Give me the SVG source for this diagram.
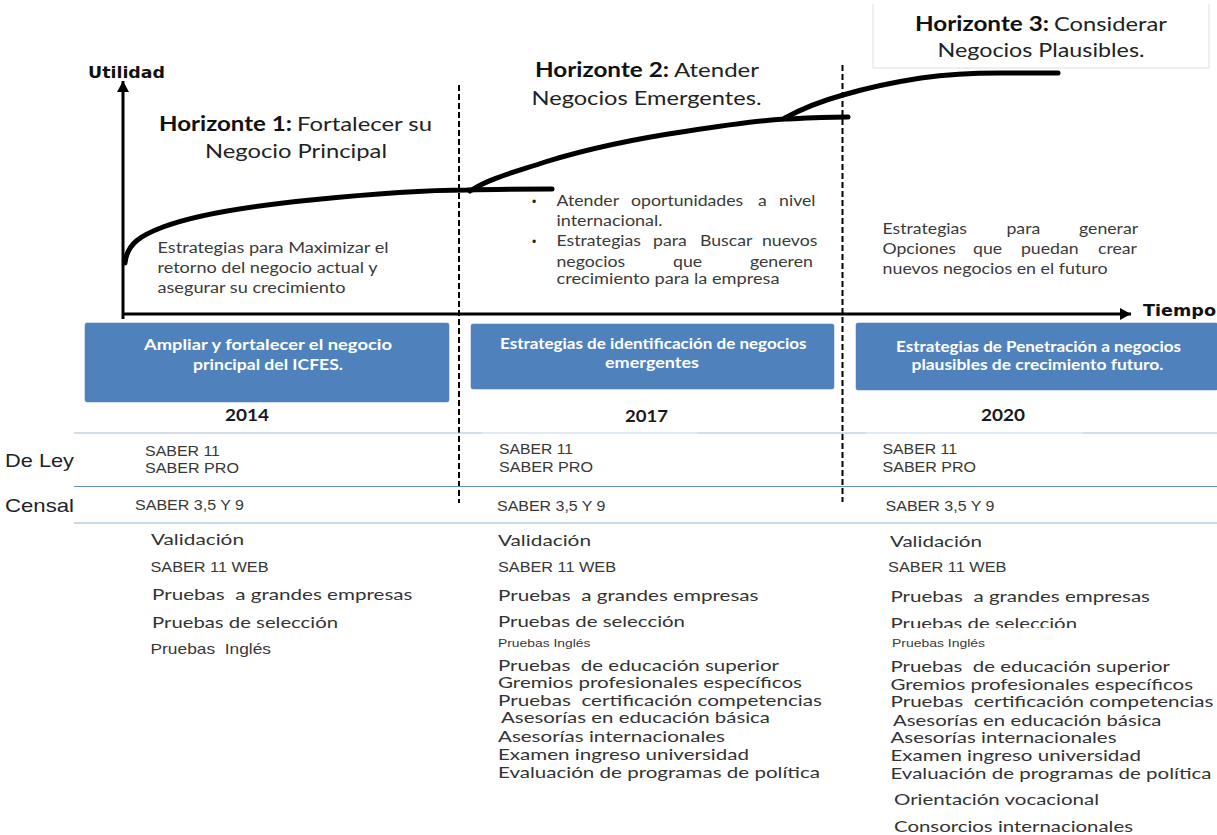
<svg xmlns="http://www.w3.org/2000/svg" width="1217" height="835" viewBox="0 0 1217 835">
<style>
text{font-family:"Lato","Open Sans",sans-serif;fill:#2b2b2b;white-space:pre}
.h{font-size:20px;fill:#222}
.hb{font-weight:700;fill:#111}
.b{font-size:14.5px;fill:#3a3a3a}
.l{font-size:16px;fill:#333}
.a{font-family:"Liberation Sans",Arial,sans-serif;font-size:14.5px;fill:#383838}
.bu{font-family:"Liberation Sans",Arial,sans-serif;font-size:12px;fill:#222}
.w{font-size:14.5px;font-weight:700;fill:#fff}
.y{font-size:17.5px;font-weight:700;fill:#1a1a1a}
.ax{font-family:"DejaVu Sans",sans-serif;font-size:15px;font-weight:700;fill:#111}
.r{font-family:"Liberation Sans",Arial,sans-serif;font-size:19px;fill:#222}
.box{fill:#4f81bd;stroke:#4a7ab3;stroke-width:.5}
.c{fill:none;stroke:#000;stroke-width:5;stroke-linecap:round}
.d{fill:none;stroke:#000;stroke-width:2;stroke-dasharray:6 3}
.ra{fill:none;stroke:#000;stroke-width:3}
.s{fill:none;stroke-width:1.2}
</style>
<defs>
<marker id="up" markerUnits="userSpaceOnUse" markerWidth="12" markerHeight="12" refX="11" refY="6" orient="auto"><path d="M0 0L11 6L0 12Z" fill="#000"/></marker>
</defs>

<g id="connectors">
<path class="d" d="M459 85V503"/>
<path class="d" d="M842.5 65V502"/>
<path class="ra" d="M123 319V81" marker-end="url(#up)"/>
<path class="ra" d="M122 314H1131" marker-end="url(#up)"/>
<path class="c" d="M125 263C127 243 142 235 163 227C200 213 260 205 311 200C360 195 420 190 467 190C495 189 525 189 552 189"/>
<path class="c" d="M470 191C490 178 515 172 545 162C590 148 640 138 688 131C720 126 755 121 785 119C810 118 830 117 848 117"/>
<path class="c" d="M785 118C805 107 825 100 843 95C870 87 895 82 921 78C950 74 975 73 999 73C1020 73 1040 73 1058 73"/>
<path class="s" stroke="#a9bcd4" d="M74 433H482M697 433H866M1083 433H1217"/>
<path class="s" stroke="#c3d5ea" d="M482 433H697M866 433H1083"/>
<path class="s" stroke="#5d8ecb" d="M74 486.5H1217"/>
<path class="s" stroke="#8fb0da" stroke-width="1.6" d="M74 523H1217"/>
</g>

<g id="utilidad"><text class="ax" x="88" y="78" textLength="77" lengthAdjust="spacingAndGlyphs">Utilidad</text></g>
<g id="tiempo"><text class="ax" x="1143" y="316" textLength="73" lengthAdjust="spacingAndGlyphs">Tiempo</text></g>

<g id="horizonte-1">
<text class="h hb" x="159" y="131" textLength="133" lengthAdjust="spacingAndGlyphs">Horizonte 1:</text>
<text class="h" x="297" y="131" textLength="135" lengthAdjust="spacingAndGlyphs">Fortalecer su</text>
<text class="h" x="205" y="158" textLength="182" lengthAdjust="spacingAndGlyphs">Negocio Principal</text>
<text class="b" x="157.500" y="253" textLength="231" lengthAdjust="spacingAndGlyphs">Estrategias para Maximizar el</text>
<text class="b" x="157.500" y="273" textLength="220" lengthAdjust="spacingAndGlyphs">retorno del negocio actual y</text>
<text class="b" x="157.500" y="293" textLength="188" lengthAdjust="spacingAndGlyphs">asegurar su crecimiento</text>
</g>

<g id="horizonte-2">
<text class="h hb" x="535" y="77" textLength="134" lengthAdjust="spacingAndGlyphs">Horizonte 2:</text>
<text class="h" x="674" y="77" textLength="85" lengthAdjust="spacingAndGlyphs">Atender</text>
<text class="h" x="531.500" y="105" textLength="230" lengthAdjust="spacingAndGlyphs">Negocios Emergentes.</text>
<text class="bu" x="532" y="206">•</text>
<text class="b" transform="translate(556.500 206) scale(1.22 1)"><tspan x="0">Atender</tspan> <tspan x="61.100">oportunidades</tspan> <tspan x="165.200">a</tspan> <tspan x="182.400">nivel</tspan></text>
<text class="b" x="556.500" y="226" textLength="106" lengthAdjust="spacingAndGlyphs">internacional.</text>
<text class="bu" x="532" y="246">•</text>
<text class="b" transform="translate(556.500 246) scale(1.22 1)"><tspan x="0">Estrategias</tspan> <tspan x="79.100">para</tspan> <tspan x="117.600">Buscar</tspan> <tspan x="168.400">nuevos</tspan></text>
<text class="b" transform="translate(556.500 267) scale(1.22 1)"><tspan x="0">negocios</tspan> <tspan x="95.500">que</tspan> <tspan x="158.600">generen</tspan></text>
<text class="b" x="556.500" y="284" textLength="223" lengthAdjust="spacingAndGlyphs">crecimiento para la empresa</text>
</g>

<g id="horizonte-3">
<path d="M873 4V68H1209V4" fill="#fff" stroke="#dfdfdf"/>
<text class="h hb" x="915" y="31" textLength="134" lengthAdjust="spacingAndGlyphs">Horizonte 3:</text>
<text class="h" x="1054" y="31" textLength="113" lengthAdjust="spacingAndGlyphs">Considerar</text>
<text class="h" x="937.500" y="57" textLength="207" lengthAdjust="spacingAndGlyphs">Negocios Plausibles.</text>
<text class="b" transform="translate(882.500 234) scale(1.22 1)"><tspan x="0">Estrategias</tspan> <tspan x="101.600">para</tspan> <tspan x="161.100">generar</tspan></text>
<text class="b" transform="translate(882.500 254) scale(1.22 1)"><tspan x="0">Opciones</tspan> <tspan x="74.200">que</tspan> <tspan x="113.500">puedan</tspan> <tspan x="176.600">crear</tspan></text>
<text class="b" x="882.500" y="274" textLength="225" lengthAdjust="spacingAndGlyphs">nuevos negocios en el futuro</text>
</g>

<g id="box-2014">
<rect class="box" x="85" y="323" width="364" height="79" rx="2"/>
<text class="w" x="144" y="350" textLength="248" lengthAdjust="spacingAndGlyphs">Ampliar y fortalecer el negocio</text>
<text class="w" x="193" y="370" textLength="150" lengthAdjust="spacingAndGlyphs">principal del ICFES.</text>
<text class="y" x="225" y="421" textLength="44" lengthAdjust="spacingAndGlyphs">2014</text>
</g>
<g id="box-2017">
<rect class="box" x="471" y="324" width="363" height="65" rx="2"/>
<text class="w" x="500" y="349" textLength="306.500" lengthAdjust="spacingAndGlyphs">Estrategias de identificación de negocios</text>
<text class="w" x="605" y="368" textLength="94" lengthAdjust="spacingAndGlyphs">emergentes</text>
<text class="y" x="625" y="422" textLength="43" lengthAdjust="spacingAndGlyphs">2017</text>
</g>
<g id="box-2020">
<rect class="box" x="856" y="323" width="362" height="67" rx="2"/>
<text class="w" x="896" y="352" textLength="285" lengthAdjust="spacingAndGlyphs">Estrategias de Penetración a negocios</text>
<text class="w" x="911.500" y="370" textLength="252" lengthAdjust="spacingAndGlyphs">plausibles de crecimiento futuro.</text>
<text class="y" x="981" y="421" textLength="44" lengthAdjust="spacingAndGlyphs">2020</text>
</g>

<g id="row-labels">
<text class="r" x="5" y="467" textLength="69" lengthAdjust="spacingAndGlyphs">De Ley</text>
<text class="r" x="5" y="512" textLength="69" lengthAdjust="spacingAndGlyphs">Censal</text>
</g>

<g id="col-2014">
<text class="a" x="145" y="456" textLength="75" lengthAdjust="spacingAndGlyphs">SABER 11</text>
<text class="a" x="145" y="473" textLength="94" lengthAdjust="spacingAndGlyphs">SABER PRO</text>
<text class="a" x="135" y="510" textLength="109" lengthAdjust="spacingAndGlyphs">SABER 3,5 Y 9</text>
<text class="l" x="151" y="545" textLength="93" lengthAdjust="spacingAndGlyphs">Validación</text>
<text class="a" x="150.500" y="572" textLength="118" lengthAdjust="spacingAndGlyphs">SABER 11 WEB</text>
<text class="l" x="152" y="600" textLength="260.500" lengthAdjust="spacingAndGlyphs">Pruebas  a grandes empresas</text>
<text class="l" x="152" y="628" textLength="186" lengthAdjust="spacingAndGlyphs">Pruebas de selección</text>
<text class="a" x="150.500" y="654" textLength="120.500" lengthAdjust="spacingAndGlyphs" style="font-size:15px">Pruebas  Inglés</text>
</g>

<g id="col-2017">
<text class="a" x="499" y="454" textLength="74" lengthAdjust="spacingAndGlyphs">SABER 11</text>
<text class="a" x="499" y="472" textLength="94" lengthAdjust="spacingAndGlyphs">SABER PRO</text>
<text class="a" x="497" y="511" textLength="108.500" lengthAdjust="spacingAndGlyphs">SABER 3,5 Y 9</text>
<text class="l" x="498" y="546" textLength="93" lengthAdjust="spacingAndGlyphs">Validación</text>
<text class="a" x="498" y="572" textLength="118" lengthAdjust="spacingAndGlyphs">SABER 11 WEB</text>
<text class="l" x="498" y="601" textLength="260.500" lengthAdjust="spacingAndGlyphs">Pruebas  a grandes empresas</text>
<text class="l" x="498" y="627" textLength="187" lengthAdjust="spacingAndGlyphs">Pruebas de selección</text>
<text class="a" x="498" y="647" textLength="92.500" lengthAdjust="spacingAndGlyphs" style="font-size:11.500px">Pruebas Inglés</text>
<text class="l" x="498" y="671" textLength="281" lengthAdjust="spacingAndGlyphs">Pruebas  de educación superior</text>
<text class="l" x="498" y="688" textLength="304" lengthAdjust="spacingAndGlyphs">Gremios profesionales específicos</text>
<text class="l" x="498" y="706" textLength="324" lengthAdjust="spacingAndGlyphs">Pruebas  certificación competencias</text>
<text class="l" x="501" y="723" textLength="269" lengthAdjust="spacingAndGlyphs">Asesorías en educación básica</text>
<text class="l" x="498" y="742" textLength="227" lengthAdjust="spacingAndGlyphs">Asesorías internacionales</text>
<text class="l" x="498" y="760" textLength="251" lengthAdjust="spacingAndGlyphs">Examen ingreso universidad</text>
<text class="l" x="498" y="778" textLength="322" lengthAdjust="spacingAndGlyphs">Evaluación de programas de política</text>
</g>

<g id="col-2020">
<text class="a" x="882.500" y="454" textLength="74.500" lengthAdjust="spacingAndGlyphs">SABER 11</text>
<text class="a" x="882.500" y="472" textLength="93.500" lengthAdjust="spacingAndGlyphs">SABER PRO</text>
<text class="a" x="885.500" y="511" textLength="109" lengthAdjust="spacingAndGlyphs">SABER 3,5 Y 9</text>
<text class="l" x="890" y="547" textLength="92" lengthAdjust="spacingAndGlyphs">Validación</text>
<text class="a" x="888" y="572" textLength="118.500" lengthAdjust="spacingAndGlyphs">SABER 11 WEB</text>
<text class="l" x="890.500" y="602" textLength="259.500" lengthAdjust="spacingAndGlyphs">Pruebas  a grandes empresas</text>
<text class="l" x="890.500" y="629" textLength="186.500" lengthAdjust="spacingAndGlyphs">Pruebas de selección</text>
<rect x="885" y="628" width="200" height="6" fill="#fff"/>
<text class="a" x="892" y="647" textLength="93" lengthAdjust="spacingAndGlyphs" style="font-size:11.500px">Pruebas Inglés</text>
<text class="l" x="890.500" y="672" textLength="279.500" lengthAdjust="spacingAndGlyphs">Pruebas  de educación superior</text>
<text class="l" x="890.500" y="690" textLength="302.500" lengthAdjust="spacingAndGlyphs">Gremios profesionales específicos</text>
<text class="l" x="890.500" y="707" textLength="323" lengthAdjust="spacingAndGlyphs">Pruebas  certificación competencias</text>
<text class="l" x="893" y="726" textLength="268.500" lengthAdjust="spacingAndGlyphs">Asesorías en educación básica</text>
<text class="l" x="890.500" y="743" textLength="226" lengthAdjust="spacingAndGlyphs">Asesorías internacionales</text>
<text class="l" x="890.500" y="761" textLength="250.500" lengthAdjust="spacingAndGlyphs">Examen ingreso universidad</text>
<text class="l" x="890.500" y="779" textLength="321" lengthAdjust="spacingAndGlyphs">Evaluación de programas de política</text>
<text class="l" x="894" y="805" textLength="205" lengthAdjust="spacingAndGlyphs">Orientación vocacional</text>
<text class="l" x="894" y="832" textLength="239" lengthAdjust="spacingAndGlyphs">Consorcios internacionales</text>
</g>
</svg>
